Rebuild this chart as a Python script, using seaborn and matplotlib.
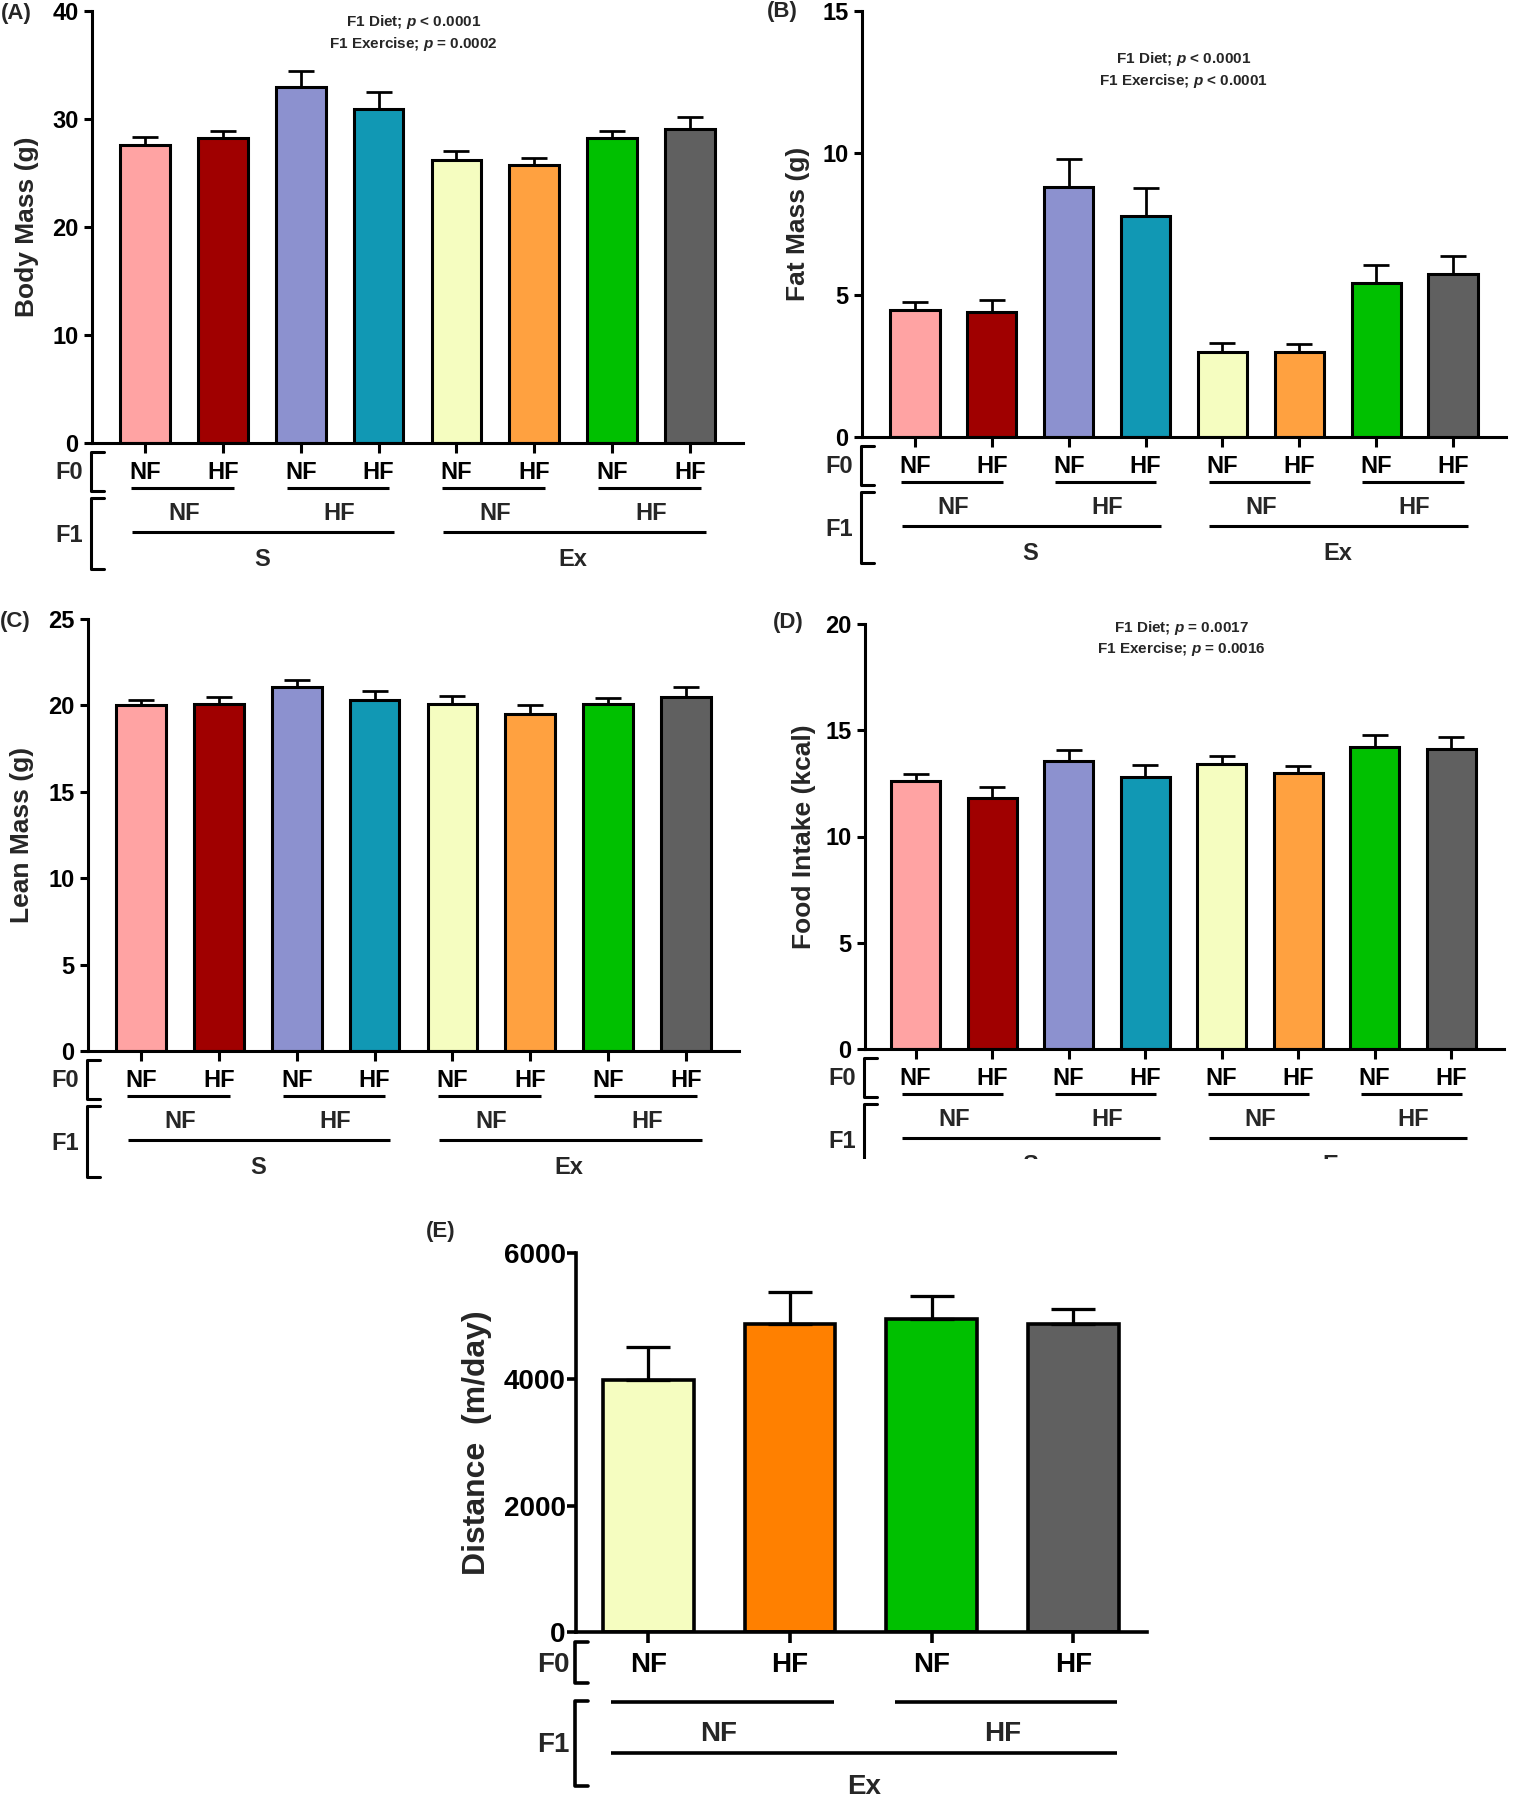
import numpy as np
import pandas as pd
import matplotlib
matplotlib.use('Agg')
from matplotlib import pyplot
from matplotlib import font_manager
import matplotlib.transforms as mtrans
from matplotlib.patches import Rectangle
import seaborn as sns

# F1 activity - F1 diet - F0 diet
groups = ['S-NF-NF', 'S-NF-HF', 'S-HF-NF', 'S-HF-HF',
          'Ex-NF-NF', 'Ex-NF-HF', 'Ex-HF-NF', 'Ex-HF-HF']
f0_labels = ['NF', 'HF', 'NF', 'HF', 'NF', 'HF', 'NF', 'HF']
f1_labels = ['NF', 'HF', 'NF', 'HF']
act_labels = ['S', 'Ex']
colors = ['#FFA3A3', '#A00000', '#8C91CF', '#1198B4',
          '#F5FDC0', '#FFA140', '#00C000', '#606060']

body_mean = [27.6, 28.2, 33.0, 30.9, 26.2, 25.7, 28.2, 29.1]
body_sem = [0.7, 0.7, 1.4, 1.6, 0.8, 0.7, 0.7, 1.1]
fat_mean = [4.46, 4.39, 8.79, 7.78, 2.99, 2.99, 5.40, 5.74]
fat_sem = [0.29, 0.42, 1.01, 0.99, 0.32, 0.26, 0.65, 0.64]
lean_mean = [20.01, 20.08, 21.04, 20.29, 20.08, 19.52, 20.08, 20.48]
lean_sem = [0.30, 0.42, 0.45, 0.54, 0.47, 0.51, 0.34, 0.56]
food_mean = [12.61, 11.79, 13.54, 12.79, 13.40, 12.98, 14.22, 14.13]
food_sem = [0.33, 0.54, 0.54, 0.57, 0.40, 0.35, 0.54, 0.56]

# panel E: exercised F1 only
ex_groups = ['NF-NF', 'NF-HF', 'HF-NF', 'HF-HF']
ex_f0 = ['NF', 'HF', 'NF', 'HF']
ex_f1 = ['NF', 'HF']
ex_colors = ['#F5FDC0', '#FF8000', '#00C000', '#606060']
dist_mean = [3995, 4880, 4956, 4880]
dist_sem = [510, 500, 370, 240]

W, H = 1514, 1800

sns.set_theme(style="ticks")
pyplot.rcParams['font.family'] = ['Liberation Sans', 'DejaVu Sans']

# narrow face for the p-value notes, if it is there
installed = {f.name for f in font_manager.fontManager.ttflist}
if 'Liberation Sans Narrow' in installed:
	note_family = 'Liberation Sans Narrow'
	note_size = 13
else:
	note_family = 'Liberation Sans'
	note_size = 11
pyplot.rcParams['mathtext.fontset'] = 'custom'
pyplot.rcParams['mathtext.it'] = note_family + ':italic:bold'
pyplot.rcParams['mathtext.rm'] = note_family + ':bold'
pyplot.rcParams['mathtext.bf'] = note_family + ':bold'

fig = pyplot.figure(figsize=(W / 100, H / 100), dpi=100)


def AddAx(left, top, right, bottom):
	return fig.add_axes([left / W, 1 - bottom / H, (right - left) / W, (bottom - top) / H])


def FracY(ax, px):
	# pixels below the x axis -> axes fraction
	return -px / (ax.get_position().height * H)


def FracX(ax, px):
	return px / (ax.get_position().width * W)


def CapText(ax, x, below, s, size, tr):
	em = size * 100 / 72
	ax.text(x, FracY(ax, below + 0.358 * em), s, transform=tr, ha='center', va='baseline',
			fontsize=size, fontweight='bold', clip_on=False)


def BarPanel(ax, cats, means, sems, cols, ylim, yticks, ylabel, xlim,
			 fs=17, lw=2.2, capsize=9.7, ylab_dx=65, bar_w=0.64):
	df = pd.DataFrame({'group': cats, 'mean': means})
	sns.barplot(data=df, x='group', y='mean', hue='group', order=cats, hue_order=cats,
				palette=dict(zip(cats, cols)), legend=False, width=bar_w, saturation=1,
				edgecolor='black', linewidth=lw, errorbar=None, ax=ax)
	ax.errorbar(np.arange(len(cats)), means, yerr=[np.zeros(len(cats)), sems], fmt='none',
				ecolor='black', elinewidth=lw * 0.9, capsize=capsize, capthick=lw * 0.9, zorder=3)
	ax.set_xlim(xlim)
	ax.set_ylim(ylim)
	ax.set_yticks(yticks)
	ax.set_yticklabels([str(v) for v in yticks], fontsize=fs, fontweight='bold')
	sns.despine(ax=ax)
	for s in ['left', 'bottom']:
		ax.spines[s].set_linewidth(lw)
		ax.spines[s].set_color('black')
	ax.set_xlabel('')
	ax.set_ylabel(ylabel, fontsize=fs + 2 if fs < 19 else fs + 3, fontweight='bold')
	ax.yaxis.set_label_coords(-FracX(ax, ylab_dx), 0.5)
	ax.yaxis.label.set_va('center')
	ax.grid(False)


def Decorate(ax, f0, fs, lw, off, pairs, f1, acts, act_span, act_pos, pair_span, tick_len, pad):
	ax.set_xticks(range(len(f0)))
	ax.set_xticklabels(f0, fontsize=fs, fontweight='bold')
	ax.tick_params(axis='x', length=tick_len, width=lw, pad=pad, colors='black', direction='out')
	ax.tick_params(axis='y', length=tick_len * 0.8, width=lw, pad=4, colors='black', direction='out')
	tr = mtrans.blended_transform_factory(ax.transData, ax.transAxes)
	# F0 pair underlines and F1 diet labels
	for k, i in enumerate(pairs):
		ax.plot([i + pair_span[0], i + 1 + pair_span[1]], [FracY(ax, off['pair'])] * 2,
				color='black', lw=lw, transform=tr, clip_on=False, solid_capstyle='butt')
		CapText(ax, i + 0.5, off['f1'], f1[k], fs, tr)
	# F1 activity lines
	for k, (a, b) in enumerate(act_span):
		ax.plot([a, b], [FracY(ax, off['act'])] * 2, color='black', lw=lw,
				transform=tr, clip_on=False, solid_capstyle='butt')
		CapText(ax, act_pos[k], off['actlab'], acts[k], fs, tr)
	# brackets and row names
	bx0, bx1 = -FracX(ax, 1), FracX(ax, 12)
	for (t, b) in [off['b0'], off['b1']]:
		ax.plot([bx1, bx0, bx0, bx1], [FracY(ax, t), FracY(ax, t), FracY(ax, b), FracY(ax, b)],
				color='black', lw=lw, transform=ax.transAxes, clip_on=False)
	CapText(ax, -FracX(ax, 23), off['f0lab'], 'F0', fs, ax.transAxes)
	CapText(ax, -FracX(ax, 23), off['f1lab'], 'F1', fs, ax.transAxes)


def Annot(ax, x, lines_px, lines, top, bottom):
	tr = mtrans.blended_transform_factory(ax.transData, ax.transAxes)
	for y, s in zip(lines_px, lines):
		ax.text(x, (bottom - y) / (bottom - top), s, transform=tr, ha='center', va='center',
				fontsize=note_size, fontweight='bold', family=[note_family, 'Liberation Sans'],
				clip_on=False)


off8 = {'pair': 45, 'f1': 69, 'act': 89, 'actlab': 115, 'b0': (9, 48), 'b1': (55, 126),
		'f0lab': 28, 'f1lab': 91}
pairs8 = [0, 2, 4, 6]
act8 = [(-0.17, 3.2), (3.83, 7.2)]

panels = [
	# letter, box, means, sems, ylim, yticks, ylabel, lbl pos, ylab_dx, xlim
	('(A)', (92, 11, 743, 443), body_mean, body_sem, (0, 40), [0, 10, 20, 30, 40], 'Body Mass (g)', (16, 13), 65, (-0.68, 7.68)),
	('(B)', (862, 11, 1506, 436.5), fat_mean, fat_sem, (0, 15), [0, 5, 10, 15], 'Fat Mass (g)', (782, 12), 64, (-0.69, 7.69)),
	('(C)', (88, 619, 739, 1051), lean_mean, lean_sem, (0, 25), [0, 5, 10, 15, 20, 25], 'Lean Mass (g)', (15, 622), 66, (-0.68, 7.68)),
	('(D)', (865, 624, 1504, 1049), food_mean, food_sem, (0, 20), [0, 5, 10, 15, 20], 'Food Intake (kcal)', (788, 623), 61, (-0.66, 7.69)),
]

axes = {}
for letter, box, m, s, yl, yt, lab, lpos, dx, xl in panels:
	ax = AddAx(*box)
	BarPanel(ax, groups, m, s, colors, yl, yt, lab, xl, ylab_dx=dx)
	Decorate(ax, f0_labels, 17, 2.2, off8, pairs8, f1_labels, act_labels, act8, [1.5, 5.5],
			 (-0.18, 0.14), 7, 6.3)
	fig.text(lpos[0] / W, 1 - lpos[1] / H, letter, ha='center', va='center', fontsize=16, fontweight='bold')
	axes[letter] = (ax, box)

ax, box = axes['(A)']
Annot(ax, 3.45, [21.5, 44], ['F1 Diet; $p$ < 0.0001', 'F1 Exercise; $p$ = 0.0002'], box[1], box[3])
ax, box = axes['(B)']
Annot(ax, 3.5, [58.5, 80.6], ['F1 Diet; $p$ < 0.0001', 'F1 Exercise; $p$ < 0.0001'], box[1], box[3])
ax, box = axes['(D)']
Annot(ax, 3.47, [627.7, 649], ['F1 Diet; $p$ = 0.0017', 'F1 Exercise; $p$ = 0.0016'], box[1], box[3])

# panel E
axE = AddAx(576, 1253, 1147, 1632)
BarPanel(axE, ex_groups, dist_mean, dist_sem, ex_colors, (0, 6000), [0, 2000, 4000, 6000],
		 'Distance  (m/day)', (-0.51, 3.52), fs=20, lw=2.6, capsize=16, ylab_dx=99)
offE = {'pair': 70, 'f1': 99, 'act': 121, 'actlab': 152, 'b0': (10, 51), 'b1': (69, 154),
		'f0lab': 30, 'f1lab': 110}
Decorate(axE, ex_f0, 20, 2.6, offE, [0, 2], ex_f1, ['Ex'], [(-0.26, 3.31)], [1.52],
		 (-0.26, 0.31), 8, 6.4)
axE.tick_params(axis='y', pad=1)
fig.text(441 / W, 1 - 1231 / H, '(E)', ha='center', va='center', fontsize=16, fontweight='bold')

# panel D is cropped at the bottom in the original figure
fig.add_artist(Rectangle((760 / W, 1 - 1215 / H), (W - 760) / W, (1215 - 1159) / H,
						 transform=fig.transFigure, facecolor='white', edgecolor='none', zorder=100))

pyplot.savefig('out.png', dpi=100, facecolor='white')
